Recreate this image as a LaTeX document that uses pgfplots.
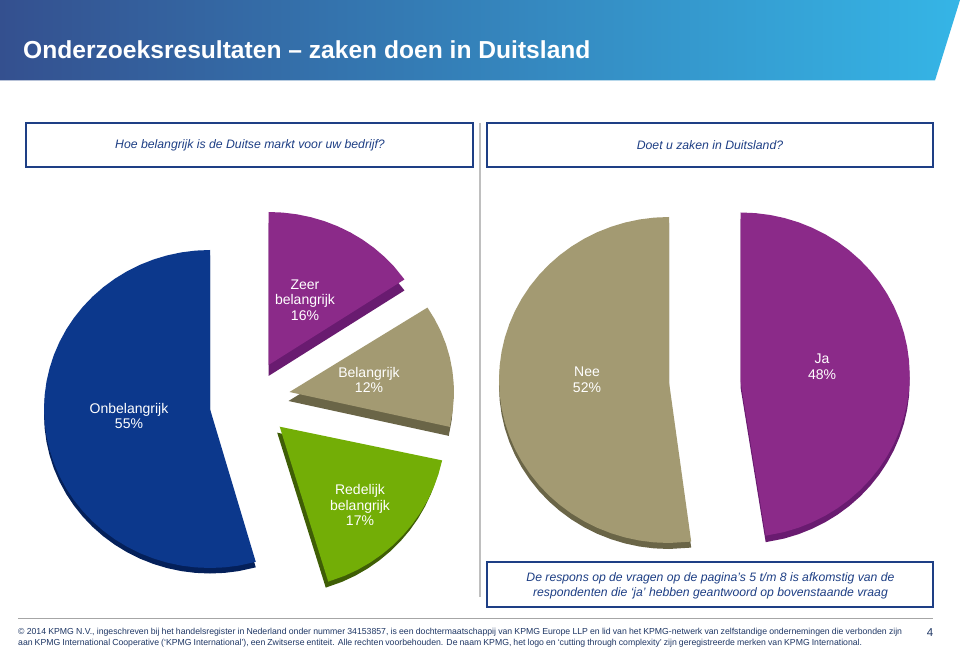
\documentclass[border=0pt]{standalone}
\usepackage{fontspec}
\setmainfont{Liberation Sans}
\usepackage{pgfplots}
\usepackage{pgfplotstable}
\pgfplotsset{compat=1.18}
\definecolor{navy}{HTML}{1E3F85}
\definecolor{ftext}{HTML}{1F3765}
\definecolor{cblue}{HTML}{0C388C}\definecolor{dblue}{HTML}{04205A}
\definecolor{cpur}{HTML}{8B2A89}\definecolor{dpur}{HTML}{691B70}
\definecolor{ctan}{HTML}{A39A72}\definecolor{dtan}{HTML}{6A6547}
\definecolor{cgrn}{HTML}{73AE06}\definecolor{dgrn}{HTML}{3F5E06}
\definecolor{hl}{HTML}{34508F}\definecolor{hm}{HTML}{3570B0}\definecolor{hr}{HTML}{35B5E6}
% wedges: angle (degrees) and radius, in pixels of the picture
\pgfplotstableread[row sep=\\]{a r\\ 0 0\\ 90 159\\ 95 159\\ 100 159\\ 105 159\\ 110 159\\ 115 159\\ 120 159\\ 125 159\\ 130 159\\ 135 159\\ 140 159\\ 145 159\\ 150 159\\ 155 159\\ 160 159\\ 165 159\\ 170 159\\ 175 159\\ 180 159\\ 185 159\\ 190 159\\ 195 159\\ 200 159\\ 205 159\\ 210 159\\ 215 159\\ 220 159\\ 225 159\\ 230 159\\ 235 159\\ 240 159\\ 245 159\\ 250 159\\ 255 159\\ 260 159\\ 265 159\\ 270 159\\ 275 159\\ 280 159\\ 286 159\\}\Tonbel
\pgfplotstableread[row sep=\\]{a r\\ 0 0\\ 90 153\\ 85 153\\ 80 153\\ 75 153\\ 70 153\\ 65 153\\ 60 153\\ 55 153\\ 50 153\\ 45 153\\ 40 153\\ 34 153\\}\Tzeer
\pgfplotstableread[row sep=\\]{a r\\ 0 0\\ 33 155\\ 28 155\\ 23 155\\ 18 155\\ 13 155\\ 8 155\\ 3 155\\ -2 155\\ -7 155\\ -13 155\\}\Tbel
\pgfplotstableread[row sep=\\]{a r\\ 0 0\\ -12 162\\ -17 162\\ -22 162\\ -27 162\\ -32 162\\ -37 162\\ -42 162\\ -47 162\\ -52 162\\ -57 162\\ -62 162\\ -67 162\\ -73 162\\}\Tred
\pgfplotstableread[row sep=\\]{a r\\ -90 2\\ 90 163\\ 95 163\\ 100 163\\ 105 163\\ 110 163\\ 115 163\\ 120 163\\ 125 163\\ 130 163\\ 135 163\\ 140 163\\ 145 163\\ 150 163\\ 155 163\\ 160 163\\ 165 163\\ 170 163\\ 175 163\\ 180 163\\ 185 163\\ 190 163\\ 195 163\\ 200 163\\ 205 163\\ 210 163\\ 215 163\\ 220 163\\ 225 163\\ 230 163\\ 235 163\\ 240 163\\ 245 163\\ 250 163\\ 255 163\\ 260 163\\ 265 163\\ 270 163\\ 277.5 163\\}\Tnee
\pgfplotstableread[row sep=\\]{a r\\ -90 7\\ 90 162.5\\ 85 162.5\\ 80 162.5\\ 75 162.5\\ 70 162.5\\ 65 162.5\\ 60 162.5\\ 55 162.5\\ 50 162.5\\ 45 162.5\\ 40 162.5\\ 35 162.5\\ 30 162.5\\ 25 162.5\\ 20 162.5\\ 15 162.5\\ 10 162.5\\ 5 162.5\\ 0 162.5\\ -5 162.5\\ -10 162.5\\ -15 162.5\\ -20 162.5\\ -25 162.5\\ -30 162.5\\ -35 162.5\\ -40 162.5\\ -45 162.5\\ -50 162.5\\ -55 162.5\\ -60 162.5\\ -65 162.5\\ -70 162.5\\ -75 162.5\\ -81.5 162.5\\}\Tja
% #1 table, #2 face, #3 side, #4 cx, #5 cy, #6 dx, #7 dy, #8 xscale
\newcommand{\wedgeplot}[8]{%
  \addplot[fill=#3,draw=none,forget plot] table[x expr={#4+#6+#8*\thisrow{r}*cos(\thisrow{a})},y expr={#5+#7+\thisrow{r}*sin(\thisrow{a})}]{#1} -- cycle;
  \addplot[fill=#2,draw=none,forget plot] table[x expr={#4+#8*\thisrow{r}*cos(\thisrow{a})},y expr={#5+\thisrow{r}*sin(\thisrow{a})}]{#1} -- cycle;
}
\begin{document}
\begin{tikzpicture}[x=1pt,y=1pt]
\path[use as bounding box,fill=white] (0,0) rectangle (960,648);
\shade[left color=hl,middle color=hm,right color=hr] (0,648) -- (960,648) -- (935,567.5) -- (0,567.5) -- cycle;
\foreach \xa/\xb/\ya/\yb in {26/473/481/525,487/933/481/525,487/933/41/86}
  \draw[navy,line width=1.4] (\xa,\ya) rectangle (\xb,\yb);
\draw[black!25,line width=1.5] (480,525) -- (480,51);
\draw[black!35,line width=0.8] (18,29.5) -- (933,29.5);
\begin{axis}[at={(0,0)},anchor=south west,x=1pt,y=1pt,scale only axis,xmin=0,xmax=960,ymin=0,ymax=648,hide axis,clip=false]
\wedgeplot{\Tonbel}{cblue}{dblue}{210}{239}{0}{-5.5}{1.044}
\wedgeplot{\Tzeer}{cpur}{dpur}{268.5}{283}{0}{-11}{1.072}
\wedgeplot{\Tbel}{ctan}{dtan}{289.5}{256}{-1}{-9}{1.061}
\wedgeplot{\Tred}{cgrn}{dgrn}{279.7}{221.3}{-2.5}{-6}{1.025}
\wedgeplot{\Tnee}{ctan}{dtan}{669}{268}{0}{-6}{1.043}
\wedgeplot{\Tja}{cpur}{dpur}{740.7}{273}{0}{-6.5}{1.04}
\tikzset{lab/.style={text=white,align=center,inner sep=0,font=\fontsize{14}{15.5}\selectfont}}
\node[lab] at (axis cs:129,232) {Onbelangrijk\\55\%};
\node[lab] at (axis cs:305,348) {Zeer\\belangrijk\\16\%};
\node[lab] at (axis cs:369,268) {Belangrijk\\12\%};
\node[lab] at (axis cs:360,143) {Redelijk\\belangrijk\\17\%};
\node[lab] at (axis cs:587,268) {Nee\\52\%};
\node[lab] at (axis cs:822,281) {Ja\\48\%};
\end{axis}
\node[anchor=base west,inner sep=0,text=white,font=\fontsize{24.6}{28}\bfseries\selectfont] at (23,589.3) {Onderzoeksresultaten – zaken doen in Duitsland};
\node[navy,font=\fontsize{12.25}{14}\itshape\selectfont,inner sep=0] at (250,502.5) {Hoe belangrijk is de Duitse markt voor uw bedrijf?};
\node[navy,font=\fontsize{12.25}{14}\itshape\selectfont,inner sep=0] at (710,502.5) {Doet u zaken in Duitsland?};
\node[navy,align=center,inner sep=0,font=\fontsize{12.2}{15.5}\itshape\selectfont] at (710.5,62) {De respons op de vragen op de pagina’s 5 t/m 8 is afkomstig van de\\respondenten die ‘ja’ hebben geantwoord op bovenstaande vraag};
\node[anchor=base west,inner sep=0,text=ftext,font=\fontsize{8.7}{10}\selectfont] at (18,14) {\makebox[884pt][s]{© 2014 KPMG N.V., ingeschreven bij het handelsregister in Nederland onder nummer 34153857, is een dochtermaatschappij van KPMG Europe LLP en lid van het KPMG-netwerk van zelfstandige ondernemingen die verbonden zijn}};
\node[anchor=base west,inner sep=0,text=ftext,font=\fontsize{8.7}{10}\selectfont] at (18,3) {\makebox[844pt][s]{aan KPMG International Cooperative (‘KPMG International’), een Zwitserse entiteit. Alle rechten voorbehouden. De naam KPMG, het logo en ‘cutting through complexity’ zijn geregistreerde merken van KPMG International.}};
\node[text=ftext,inner sep=0,font=\fontsize{11.5}{13}\selectfont] at (930,15) {4};
\end{tikzpicture}
\end{document}
